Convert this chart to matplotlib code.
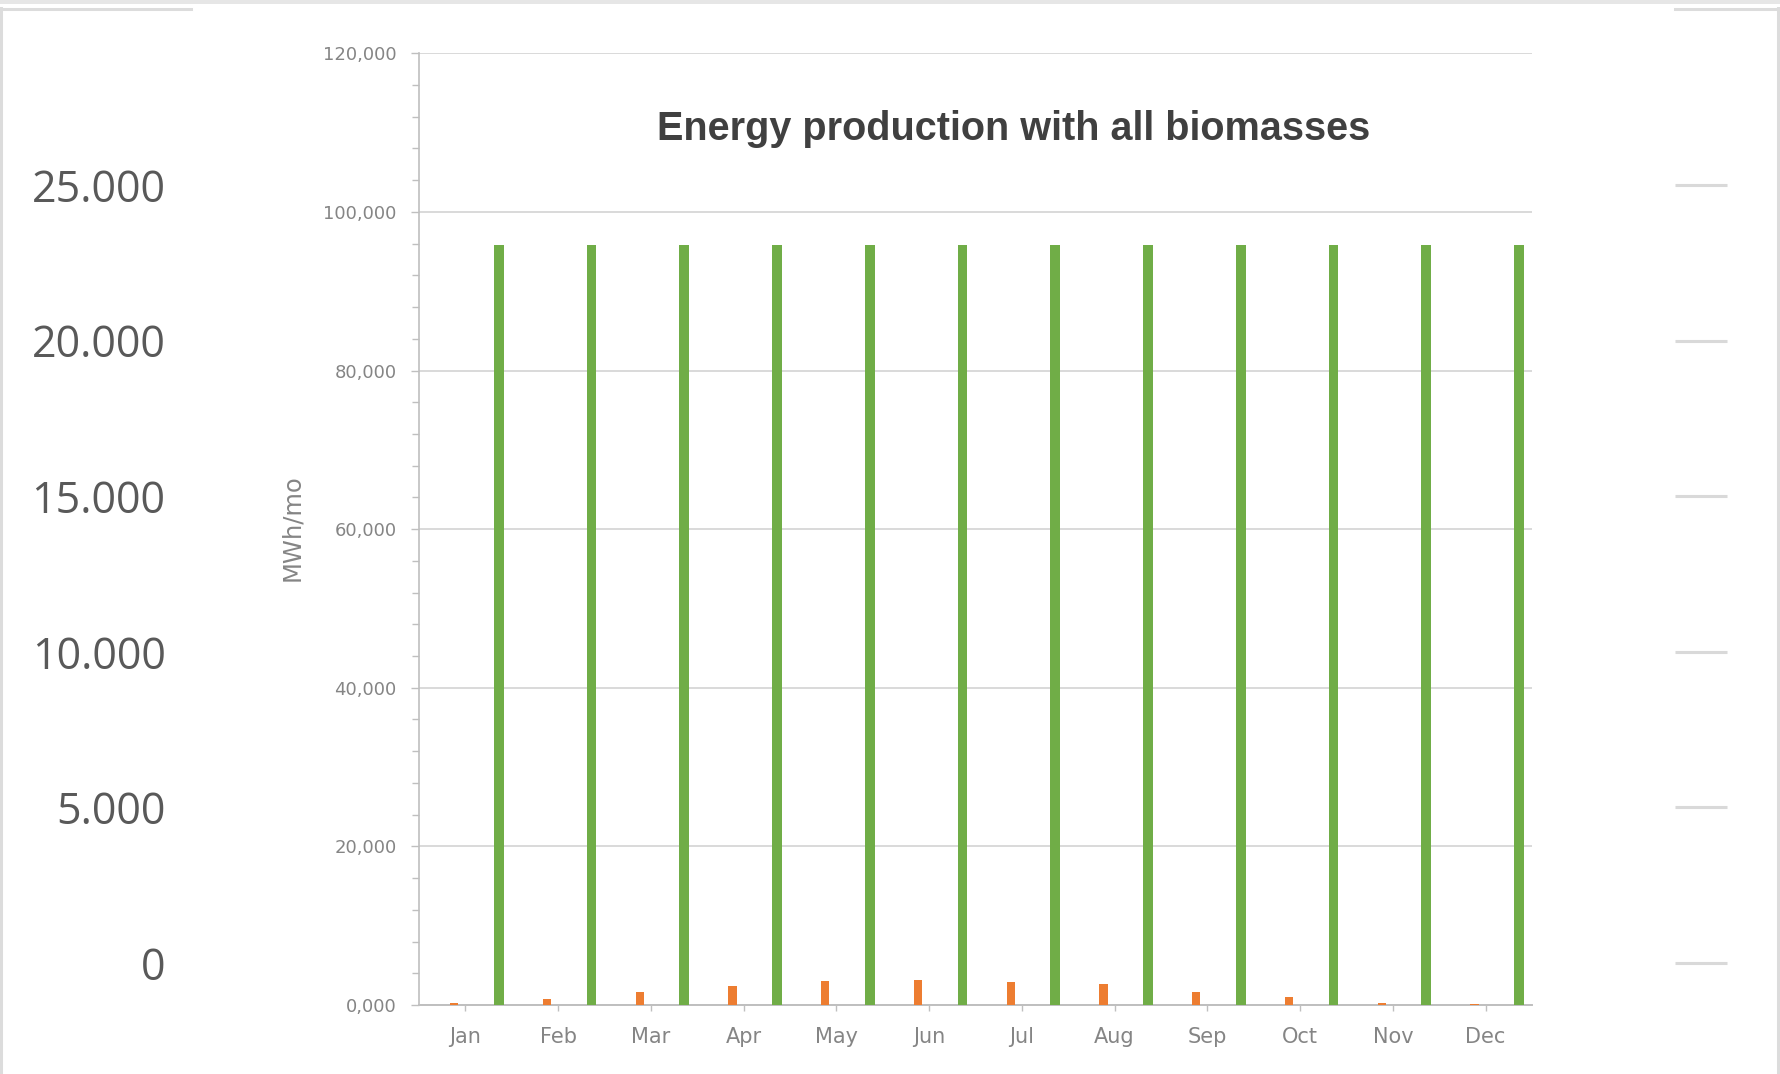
import matplotlib
matplotlib.use("Agg")
import matplotlib.pyplot as plt
from matplotlib.lines import Line2D
import numpy as np

# ---- data ----
months = ["Jan", "Feb", "Mar", "Apr", "May", "Jun", "Jul", "Aug", "Sep", "Oct", "Nov", "Dec"]
orange_vals = [250, 750, 1600, 2400, 3000, 3100, 2950, 2600, 1700, 1000, 200, 120]
green_vals = [95800] * 12
yticks_main = [0, 20000, 40000, 60000, 80000, 100000, 120000]
ytick_labels_main = ["0,000", "20,000", "40,000", "60,000", "80,000", "100,000", "120,000"]
bg_ticks = [0, 5000, 10000, 15000, 20000, 25000]
bg_labels = ["0", "5.000", "10.000", "15.000", "20.000", "25.000"]
title = "Energy production with all biomasses"
ylabel = "MWh/mo"

W, H = 1780, 1074
fig = plt.figure(figsize=(W / 100, H / 100), dpi=100)
fig.patch.set_facecolor("white")

def px(x0, y0, x1, y1):
    # convert pixel box (top-left origin) to figure fraction rect
    return [x0 / W, 1 - y1 / H, (x1 - x0) / W, (y1 - y0) / H]

# ---- background chart (partially hidden) ----
ax_bg = fig.add_axes(px(178, 185, 1727, 963), zorder=0)
ax_bg.set_facecolor("none")
ax_bg.set_ylim(0, 25000)
ax_bg.set_xlim(0, 1)
ax_bg.set_yticks(bg_ticks)
ax_bg.set_yticklabels(bg_labels, fontsize=31, color="#595959",
                      family=["Open Sans", "DejaVu Sans"])
ax_bg.tick_params(axis="y", length=0, pad=9)
ax_bg.set_xticks([])
for s in ax_bg.spines.values():
    s.set_visible(False)
ax_bg.hlines(bg_ticks, (1675 - 178) / (1727 - 178), 1.0,
             transform=ax_bg.get_yaxis_transform(), color="#d9d9d9", lw=2.2,
             clip_on=False)

# page border decorations
def fline(xs, ys, color="#dcdcdc", lw=2.2):
    fig.add_artist(Line2D([x / W for x in xs], [1 - y / H for y in ys],
                          transform=fig.transFigure, color=color, lw=lw))

fig.add_artist(plt.Rectangle((0, 1 - 3.5 / H), 1, 3.5 / H, transform=fig.transFigure,
                             color="#e6e6e6", lw=0))
fline([0, 191], [8.5, 8.5])
fline([1675, 1780], [8.5, 8.5])
fline([1.2, 1.2], [8, H])
fline([1777.5, 1777.5], [8, H])

# ---- main chart ----
ax = fig.add_axes(px(419, 53.3, 1532, 1005), zorder=2)
ax.set_facecolor("none")
x = np.arange(len(months))
ax.bar(x - 0.12, orange_vals, width=0.09, color="#ED7D31", zorder=3)
ax.bar(x + 0.36, green_vals, width=0.105, color="#70AD47", zorder=3)

ax.set_xlim(-0.5, len(months) - 0.5)
ax.set_ylim(0, 120000)
ax.set_yticks(yticks_main)
ax.set_yticklabels(ytick_labels_main, fontsize=13, color="#858585")
ax.set_yticks(np.arange(0, 120001, 4000), minor=True)
ax.tick_params(axis="y", which="major", length=6, width=1, color="#bfbfbf", pad=10)
ax.tick_params(axis="y", which="minor", length=5, width=1, color="#bfbfbf")
ax.set_xticks(x)
ax.set_xticklabels(months, fontsize=15, color="#858585")
ax.tick_params(axis="x", length=4, width=1, color="#bfbfbf", pad=12)
ax.grid(axis="y", which="major", color="#d9d9d9", lw=1.4, zorder=0)
for k in ("top", "right"):
    ax.spines[k].set_visible(False)
ax.spines["left"].set_color("#bfbfbf")
ax.spines["bottom"].set_color("#bfbfbf")
ax.spines["left"].set_linewidth(1.2)
ax.spines["bottom"].set_linewidth(1.4)

ax.set_ylabel(ylabel, fontsize=17.5, color="#858585")
ax.yaxis.set_label_coords((304 - 419) / (1532 - 419), (1005 - 528) / (1005 - 53.3))

ax.text((1014 - 419) / (1532 - 419), (1005 - 129) / (1005 - 53.3), title,
        transform=ax.transAxes, ha="center", va="center", fontsize=28.5,
        fontweight="bold", color="#404040", family=["Liberation Sans", "DejaVu Sans"])

fig.savefig("out.png", dpi=100)
